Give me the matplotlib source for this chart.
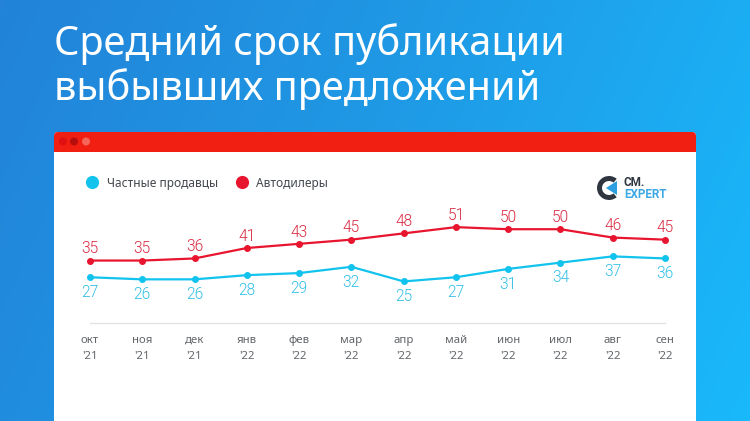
import numpy as np
import matplotlib
matplotlib.use("Agg")
import matplotlib.pyplot as plt
from matplotlib.colors import LinearSegmentedColormap
from matplotlib.lines import Line2D
from matplotlib.patches import FancyBboxPatch, Rectangle, Circle, Wedge, Polygon

plt.rcParams['font.family'] = ['Noto Sans', 'DejaVu Sans']

months = ["окт", "ноя", "дек", "янв", "фев", "мар", "апр", "май", "июн", "июл", "авг", "сен"]
years = ["'21", "'21", "'21", "'22", "'22", "'22", "'22", "'22", "'22", "'22", "'22", "'22"]
dealers = [35, 35, 36, 41, 43, 45, 48, 51, 50, 50, 46, 45]
private = [27, 26, 26, 28, 29, 32, 25, 27, 31, 34, 37, 36]

RED = "#e8152f"
BLUE = "#12c3ee"
W, H = 750, 421

fig = plt.figure(figsize=(7.5, 4.21), dpi=100)

# background, in pixel coordinates
bg = fig.add_axes([0, 0, 1, 1])
bg.set_xlim(0, W)
bg.set_ylim(H, 0)
bg.axis("off")
cmap = LinearSegmentedColormap.from_list("bg", ["#2283d8", "#1f9be6", "#19b9fb"])
xx, yy = np.meshgrid(np.linspace(0, 1, 200), np.linspace(0, 1, 120))
bg.imshow(xx * 0.8 + yy * 0.2, extent=(0, W, H, 0), cmap=cmap, vmin=0, vmax=1, aspect="auto")

# browser style card
bg.add_patch(FancyBboxPatch((54, 132), 642, 320, boxstyle="round,pad=0,rounding_size=4",
                            fc="white", ec="none"))
bg.add_patch(FancyBboxPatch((54, 132), 642, 30, boxstyle="round,pad=0,rounding_size=4",
                            fc="#f01f12", ec="none"))
bg.add_patch(Rectangle((54, 151), 642, 12, fc="white", ec="none"))
bg.add_patch(Rectangle((54, 145), 642, 7, fc="#f01f12", ec="none"))
for cx, col in zip([63, 74, 86], ["#e01010", "#b80d0d", "#f5655a"]):
    bg.add_patch(Circle((cx, 141.5), 4, fc=col, ec="none"))

bg.text(54, 44, "Средний срок публикации", color="white", fontsize=28.6, va="center", ha="left")
bg.text(54, 89, "выбывших предложений", color="white", fontsize=28.6, va="center", ha="left")

# logo
bg.add_patch(Wedge((609, 188), 12, 50, 310, width=5, fc="#2f3640", ec="none"))
bg.add_patch(Polygon([[606, 188], [617, 181], [617, 195]], fc="#2b9fe0", ec="none"))
bg.text(624, 182, "СМ.", color="#2f3640", fontsize=8.5, va="center", ha="left",
        family="Roboto", fontweight="bold")
bg.text(624, 194, "EXPERT", color="#3ba7e6", fontsize=8.4, va="center", ha="left",
        family="Roboto", fontweight="bold")

# chart
y_top, y_bottom = 210, 323
ax = fig.add_axes([90 / W, 1 - y_bottom / H, 575 / W, (y_bottom - y_top) / H])
ax.patch.set_visible(False)
x = np.arange(len(months))
ax.plot(x, private, color=BLUE, lw=1.6, marker="o", ms=4, clip_on=False)
ax.plot(x, dealers, color=RED, lw=1.6, marker="o", ms=4, clip_on=False)
ax.set_xlim(0, len(months) - 1)
ax.set_ylim(5.1, 59.2)

for i in x:
    ax.annotate(str(dealers[i]), (i, dealers[i]), xytext=(0, 8.5), textcoords="offset points",
                ha="center", va="center", color="#d9283f", fontsize=11.2, family="Roboto",
                fontweight=300)
    ax.annotate(str(private[i]), (i, private[i]), xytext=(0, -11), textcoords="offset points",
                ha="center", va="center", color="#2fbfe6", fontsize=11.2, family="Roboto",
                fontweight=300)

ax.set_xticks(x)
ax.set_xticklabels([m + "\n" + y for m, y in zip(months, years)], color="#63666a", fontsize=8.2,
                   linespacing=1.7)
ax.tick_params(axis="x", length=0, pad=8.5)
ax.set_yticks([])
for side in ["top", "left", "right"]:
    ax.spines[side].set_visible(False)
ax.spines["bottom"].set_color("#e2e2e2")
ax.spines["bottom"].set_linewidth(1)

handles = [Line2D([], [], color="none", marker="o", ms=9.5, mfc=BLUE, mec="none"),
           Line2D([], [], color="none", marker="o", ms=9.5, mfc=RED, mec="none")]
leg = fig.legend(handles, ["Частные продавцы", "Автодилеры"], loc="center left",
                 bbox_to_anchor=(69.5 / W, 1 - 183 / H), frameon=False, fontsize=8.6,
                 handletextpad=0.25, columnspacing=0.95, ncol=2, labelcolor="#44484d")

fig.savefig("out.png", dpi=100)
